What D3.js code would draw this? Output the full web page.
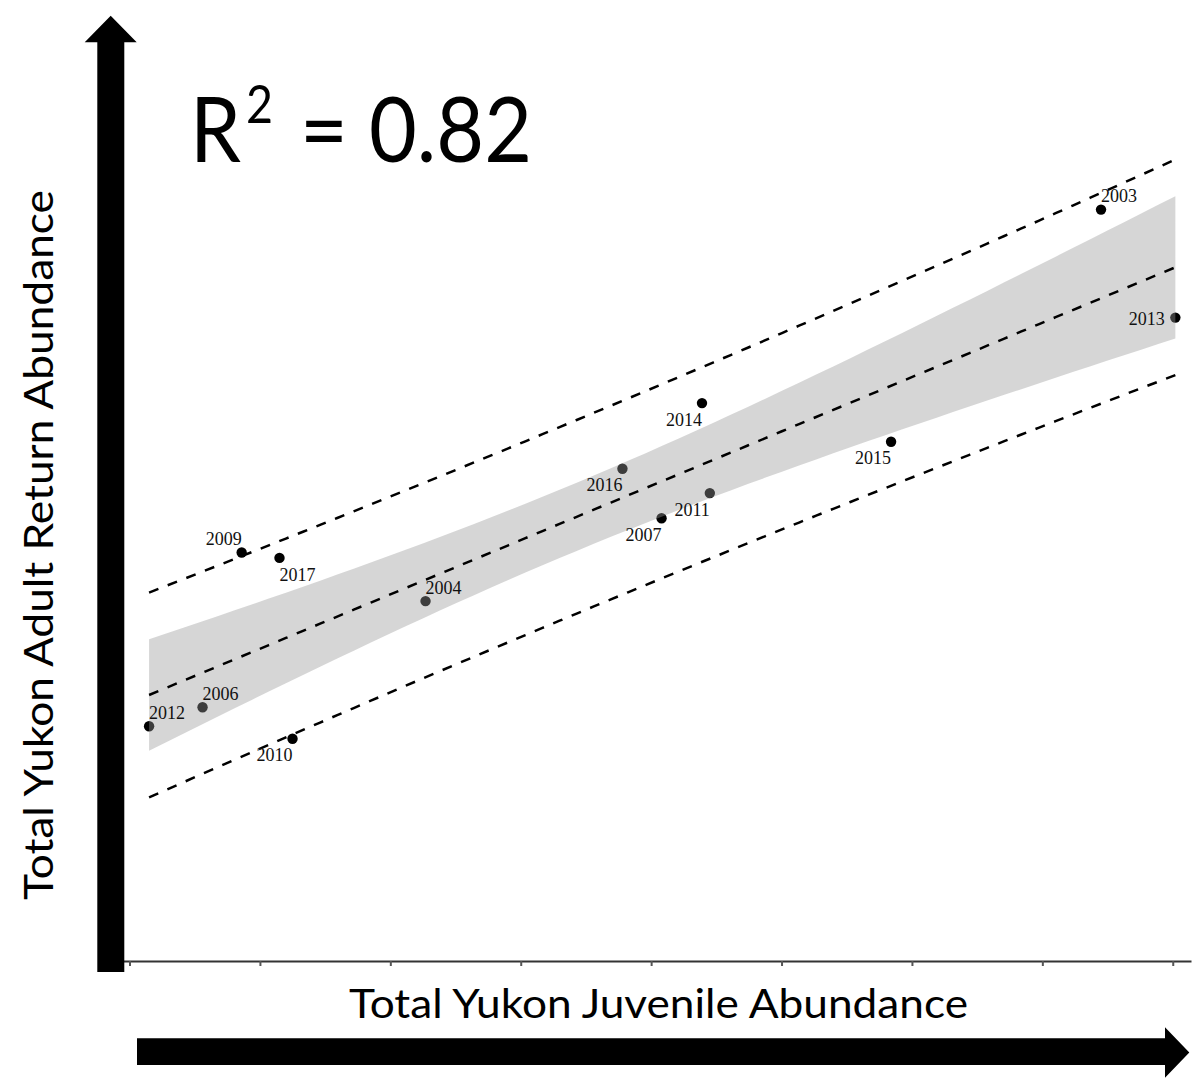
<!DOCTYPE html>
<html>
<head>
<meta charset="utf-8">
<script src="https://cdn.jsdelivr.net/npm/d3@7"></script>
<style>
  body { margin: 0; background: white; }
  svg { display: block; }
</style>
</head>
<body>
<div id="chart"></div>
<script>
// ============================================
// Yukon juvenile vs adult return abundance
// ============================================

// data (arbitrary units)
const years = ['2003', '2004', '2006', '2007', '2009', '2010', '2011',
               '2012', '2013', '2014', '2015', '2016', '2017'];
const juvenile = [7.45, 2.27, 0.56, 4.08, 0.86, 1.25, 4.45,
                  0.15, 8.02, 4.39, 5.84, 3.78, 1.15];
const adult = [8.36, 4.01, 2.83, 4.93, 4.55, 2.48, 5.21,
               2.62, 7.16, 6.21, 5.78, 5.48, 4.49];
const xTicks = [0, 1, 2, 3, 4, 5, 6, 7, 8];
const r2Label = '0.82';   // as printed on the figure

// where each year label sits relative to its point
const labelSide = ['ne', 'ne', 'ne', 'sw', 'nw', 'sw', 'sw',
                   'ne', 'w', 'sw', 'sw', 'sw', 'se'];

const width = 1204, height = 1081;

const svg = d3.select('#chart')
    .append('svg')
    .attr('width', width)
    .attr('height', height);

// scales
const x = d3.scaleLinear().domain([-0.05, 8.14]).range([123, 1191]);
const y = d3.scaleLinear().domain([0, 10]).range([962, 62]);

// 선형 회귀 + 구간
const n = juvenile.length;
const mx = d3.mean(juvenile), my = d3.mean(adult);
let sxx = 0, sxy = 0, syy = 0;
for (let i = 0; i < n; i++) {
    sxx += (juvenile[i] - mx) ** 2;
    sxy += (juvenile[i] - mx) * (adult[i] - my);
    syy += (adult[i] - my) ** 2;
}
const slope = sxy / sxx;
const intercept = my - slope * mx;
const sse = syy - slope * sxy;
const s = Math.sqrt(sse / (n - 2));
const tConf = 1.796;  // t(0.95, 11) -> 90% confidence band
const tPred = 1.363;  // t(0.90, 11) -> 80% prediction interval

const xMin = d3.min(juvenile), xMax = d3.max(juvenile);
const xs = d3.range(0, 61).map(i => xMin + (xMax - xMin) * i / 60);
const fit = xs.map(v => {
    const yhat = intercept + slope * v;
    const h = 1 / n + (v - mx) ** 2 / sxx;
    return {
        x: v,
        y: yhat,
        cLo: yhat - tConf * s * Math.sqrt(h),
        cHi: yhat + tConf * s * Math.sqrt(h),
        pLo: yhat - tPred * s * Math.sqrt(1 + h),
        pHi: yhat + tPred * s * Math.sqrt(1 + h)
    };
});

// x axis (no labels)
const xAxis = svg.append('g')
    .attr('transform', 'translate(0,961)')
    .call(d3.axisBottom(x)
        .tickValues(xTicks)
        .tickFormat('')
        .tickSizeOuter(0)
        .tickSizeInner(5));
xAxis.select('.domain').attr('stroke', '#333').attr('stroke-width', 2.2);
xAxis.selectAll('.tick line').attr('stroke', '#555').attr('stroke-width', 2);

// points
svg.selectAll('.dot')
    .data(years)
    .enter()
    .append('circle')
    .attr('class', 'dot')
    .attr('cx', (d, i) => x(juvenile[i]))
    .attr('cy', (d, i) => y(adult[i]))
    .attr('r', 5.2)
    .attr('fill', '#000');

// confidence band (drawn over the points, like the original)
svg.append('path')
    .datum(fit)
    .attr('fill', '#999')
    .attr('fill-opacity', 0.4)
    .attr('d', d3.area()
        .x(d => x(d.x))
        .y0(d => y(d.cLo))
        .y1(d => y(d.cHi)));

// dashed lines: fit and prediction limits
const dashLines = [d => d.y, d => d.pLo, d => d.pHi];
dashLines.forEach(acc => {
    svg.append('path')
        .datum(fit)
        .attr('fill', 'none')
        .attr('stroke', '#000')
        .attr('stroke-width', 2.5)
        .attr('stroke-dasharray', '10,10')
        .attr('d', d3.line().x(d => x(d.x)).y(d => y(acc(d))));
});

// year labels
const sideInfo = {
    ne: { anchor: 'start', dx: 0, dy: -13.5 },
    nw: { anchor: 'end', dx: 0, dy: -13.5 },
    se: { anchor: 'start', dx: 0, dy: 16.5 },
    sw: { anchor: 'end', dx: 0, dy: 16.5 },
    w:  { anchor: 'end', dx: -10.5, dy: 1.5 }
};
svg.selectAll('.yr')
    .data(years)
    .enter()
    .append('text')
    .attr('class', 'yr')
    .attr('x', (d, i) => x(juvenile[i]) + sideInfo[labelSide[i]].dx)
    .attr('y', (d, i) => y(adult[i]) + sideInfo[labelSide[i]].dy)
    .attr('dy', '0.34em')
    .attr('text-anchor', (d, i) => sideInfo[labelSide[i]].anchor)
    .style('font-family', '"Liberation Serif", "DejaVu Serif", serif')
    .style('font-size', '18px')
    .attr('fill', '#111')
    .text(d => d);

// big arrows
svg.append('path')
    .attr('d', 'M97.3,972 L97.3,42.3 L84.7,42.3 L110.7,15.7 L136.7,42.3 L124.3,42.3 L124.3,972 Z')
    .attr('fill', '#000');
svg.append('path')
    .attr('d', 'M137,1038.3 L1165,1038.3 L1165,1027.3 L1189.3,1052.5 L1165,1077.7 L1165,1065 L137,1065 Z')
    .attr('fill', '#000');

// axis titles
const titleFont = 'Lato, "Open Sans", sans-serif';
svg.append('text')
    .attr('x', 349)
    .attr('y', 1017.5)
    .attr('textLength', 619)
    .attr('lengthAdjust', 'spacingAndGlyphs')
    .style('font-family', titleFont)
    .style('font-size', '41px')
    .attr('fill', '#000')
    .text('Total Yukon Juvenile Abundance');

svg.append('text')
    .attr('transform', 'translate(53,900) rotate(-90)')
    .attr('x', 0)
    .attr('y', 0)
    .attr('textLength', 710)
    .attr('lengthAdjust', 'spacingAndGlyphs')
    .style('font-family', titleFont)
    .style('font-size', '41px')
    .attr('fill', '#000')
    .text('Total Yukon Adult Return Abundance');

// R² annotation
const r2g = svg.append('g').style('font-family', titleFont).attr('fill', '#000');
r2g.append('text')
    .attr('x', 190).attr('y', 161.5)
    .attr('textLength', 51).attr('lengthAdjust', 'spacingAndGlyphs')
    .style('font-size', '92px')
    .text('R');
r2g.append('text')
    .attr('x', 246).attr('y', 123)
    .attr('textLength', 27).attr('lengthAdjust', 'spacingAndGlyphs')
    .style('font-size', '53px')
    .text('2');
r2g.append('text')
    .attr('x', 300).attr('y', 161.5)
    .attr('textLength', 232).attr('lengthAdjust', 'spacingAndGlyphs')
    .style('font-size', '92px')
    .text('= ' + r2Label);
</script>
</body>
</html>
